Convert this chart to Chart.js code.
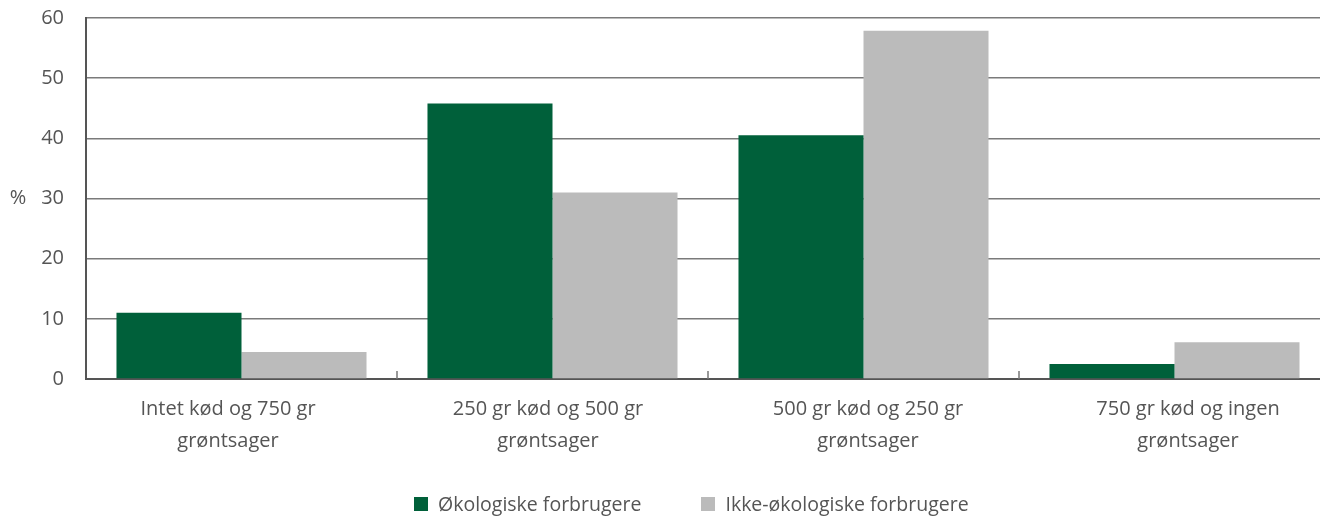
<!DOCTYPE html>
<html lang="da">
<head>
    <meta charset="UTF-8">
    <title>Kød og grøntsager</title>
    <script src="https://cdn.jsdelivr.net/npm/chart.js"></script>
    <style>
        body {
            margin: 0;
            background: #ffffff;
            font-family: "Open Sans", sans-serif;
            overflow: hidden;
        }
        #wrap {
            position: relative;
            width: 1320px;
            height: 517px;
            overflow: hidden;
        }
        /* canvas shifted up a bit so the plot top lands where the original's does */
        #chart {
            position: absolute;
            left: 0;
            top: -16px;
        }
        .legend {
            position: absolute;
            left: 414px;
            top: 490px;
            display: flex;
            align-items: center;
            font-size: 19.5px;
            color: #555555;
        }
        .legend .item {
            display: flex;
            align-items: center;
        }
        .legend .item + .item {
            margin-left: 60px;
        }
        .legend .box {
            width: 14px;
            height: 14px;
            margin-right: 10px;
        }
    </style>
</head>
<body>
<div id="wrap">
    <canvas id="chart" width="1332" height="533"></canvas>
    <div class="legend" id="legend"></div>
</div>

<script>
    const categories = [
        ['Intet kød og 750 gr', 'grøntsager'],
        ['250 gr kød og 500 gr', 'grøntsager'],
        ['500 gr kød og 250 gr', 'grøntsager'],
        ['750 gr kød og ingen', 'grøntsager']
    ];
    const organic = [11, 45.8, 40.5, 2.5];
    const nonOrganic = [4.5, 31, 57.9, 6.1];
    const seriesNames = ['Økologiske forbrugere', 'Ikke-økologiske forbrugere'];
    const seriesColors = ['#00603a', '#bbbbbb'];
    const yTicks = [0, 10, 20, 30, 40, 50, 60];

    const textColor = '#555555';
    const fontFamily = '"Open Sans", sans-serif';

    // small upward ticks between categories + the "%" label
    const extras = {
        id: 'extras',
        afterLayout(chart) {
            // the category labels in the original are spread a little wider than the bars
            const x = chart.scales.x, xl = chart.scales.xl;
            xl.left = x.left - 18;
            xl.right = x.right + 18;
            xl.width = xl.right - xl.left;
            xl.configure();
            xl._labelItems = null;
        },
        afterDatasetsDraw(chart) {
            const ctx = chart.ctx;
            const x = chart.scales.x;
            const y = chart.scales.y;
            const y0 = y.getPixelForValue(0);
            ctx.save();
            ctx.strokeStyle = '#777777';
            ctx.lineWidth = 1.5;
            for (let i = 1; i < categories.length; i++) {
                const px = Math.round((x.getPixelForTick(i - 1) + x.getPixelForTick(i)) / 2);
                ctx.beginPath();
                ctx.moveTo(px, y0);
                ctx.lineTo(px, y0 - 8);
                ctx.stroke();
            }
            ctx.fillStyle = textColor;
            ctx.font = '20px ' + fontFamily;
            ctx.textAlign = 'center';
            ctx.textBaseline = 'middle';
            ctx.fillText('%', 18, y.getPixelForValue(30));
            ctx.restore();
        }
    };

    new Chart(document.getElementById('chart'), {
        type: 'bar',
        data: {
            labels: categories,
            datasets: [
                {
                    label: seriesNames[0],
                    data: organic,
                    backgroundColor: seriesColors[0]
                },
                {
                    label: seriesNames[1],
                    data: nonOrganic,
                    backgroundColor: seriesColors[1]
                }
            ]
        },
        options: {
            responsive: false,
            animation: false,
            datasets: {
                bar: {
                    categoryPercentage: 0.804,
                    barPercentage: 1.0
                }
            },
            layout: {
                padding: { left: 0, right: 2, top: 6, bottom: 46 }
            },
            scales: {
                x: {
                    grid: { display: false, drawTicks: false },
                    border: { color: '#555555', width: 2 },
                    ticks: { display: false }
                },
                xl: {
                    type: 'category',
                    position: 'bottom',
                    labels: categories,
                    grid: { display: false, drawTicks: false },
                    border: { display: false },
                    ticks: {
                        color: textColor,
                        padding: 14,
                        maxRotation: 0,
                        font: { family: fontFamily, size: 20, lineHeight: 1.6 }
                    }
                },
                y: {
                    min: 0,
                    max: 60,
                    afterFit(scale) { scale.width = 86; },
                    afterBuildTicks(scale) {
                        scale.ticks = yTicks.map(v => ({ value: v }));
                    },
                    grid: { color: '#7a7a7a', lineWidth: 1.5, drawTicks: false },
                    border: { color: '#555555', width: 2 },
                    ticks: {
                        color: textColor,
                        padding: 22,
                        font: { family: fontFamily, size: 20 }
                    }
                }
            },
            plugins: {
                legend: { display: false },
                tooltip: { enabled: false }
            }
        },
        plugins: [extras]
    });

    // HTML legend
    const legendEl = document.getElementById('legend');
    seriesNames.forEach((name, i) => {
        const item = document.createElement('div');
        item.className = 'item';
        const box = document.createElement('span');
        box.className = 'box';
        box.style.background = seriesColors[i];
        const txt = document.createElement('span');
        txt.textContent = name;
        item.appendChild(box);
        item.appendChild(txt);
        legendEl.appendChild(item);
    });
</script>
</body>
</html>
